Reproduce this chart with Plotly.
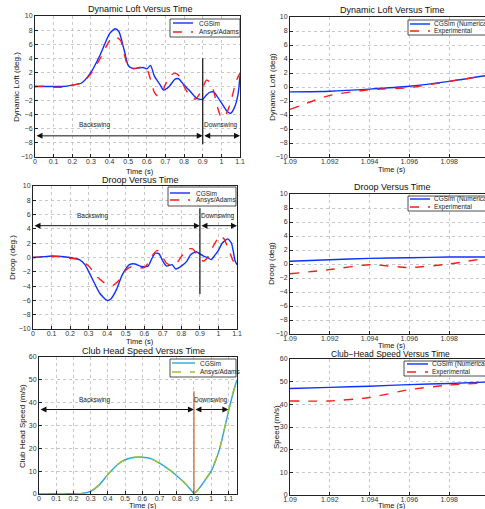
import plotly.graph_objects as go

# ---------------- data ----------------
# Dynamic loft (left, full swing)
loft_t_cg = [0, 0.05, 0.1, 0.15, 0.2, 0.25, 0.3, 0.35, 0.4, 0.43, 0.45, 0.48, 0.5, 0.52, 0.55, 0.58, 0.6, 0.62,
             0.64, 0.67, 0.69, 0.72, 0.75, 0.77, 0.8, 0.83, 0.86, 0.88, 0.9, 0.92, 0.94, 0.96, 0.98, 1.0,
             1.03, 1.05, 1.07, 1.09, 1.1]
loft_cg = [0, 0, 0, 0, 0.2, 0.5, 2.0, 4.5, 7.5, 8.2, 7.8, 5.0, 3.0, 2.6, 2.6, 2.7, 2.5, 3.0,
           1.5, 0.3, -0.5, 0.0, 1.0, 1.1, 0.2, -0.6, -1.5, -1.8, -1.8, -1.2, -0.8, -0.8, -1.5, -2.3,
           -3.5, -3.8, -3.0, -1.0, 1.5]
loft_t_an = [0, 0.05, 0.1, 0.15, 0.2, 0.25, 0.3, 0.35, 0.4, 0.43, 0.46, 0.48, 0.5, 0.53, 0.56, 0.58, 0.6, 0.62,
             0.64, 0.66, 0.68, 0.7, 0.73, 0.75, 0.77, 0.8, 0.83, 0.86, 0.88, 0.9, 0.92, 0.94, 0.96, 0.98,
             1.0, 1.02, 1.04, 1.06, 1.08, 1.1]
loft_an = [0, 0.05, -0.1, -0.1, 0.2, 0.5, 1.8, 4.0, 6.5, 7.1, 6.5, 4.5, 2.8, 2.5, 2.7, 2.8, 2.5, 1.0,
           -0.8, -1.4, -1.0, 0.3, 1.6, 1.9, 1.6, 0.0, -1.3, -1.8, -1.2, -0.2, 0.9, 0.6, -0.8, -3.0,
           -4.4, -4.2, -3.0, -1.2, 0.8, 1.9]

# Droop (left, full swing)
droop_t_cg = [0, 0.05, 0.1, 0.15, 0.2, 0.25, 0.28, 0.32, 0.36, 0.4, 0.42, 0.45, 0.48, 0.52, 0.55, 0.58, 0.62,
              0.64, 0.66, 0.68, 0.7, 0.72, 0.75, 0.77, 0.8, 0.83, 0.85, 0.88, 0.9, 0.92, 0.94, 0.96, 0.98,
              1.0, 1.02, 1.05, 1.07, 1.09, 1.1]
droop_cg = [0, 0.1, 0.2, 0.15, 0.0, -0.3, -1.0, -3.0, -5.0, -6.0, -5.8, -4.5, -2.5, -1.0, -0.9, -1.2, -1.2,
            -0.2, 0.6, 0.5, -0.5, -1.2, -1.0, -1.6, -1.2, -0.5, 0.4, 0.8, 0.5, 0.2, 0.0, -0.3, 0.3,
            1.0, 2.0, 2.6, 2.0, -0.5, -1.0]
droop_t_an = [0, 0.1, 0.15, 0.2, 0.25, 0.3, 0.35, 0.4, 0.43, 0.46, 0.5, 0.53, 0.56, 0.6, 0.62, 0.65, 0.67,
              0.69, 0.72, 0.75, 0.78, 0.81, 0.84, 0.86, 0.88, 0.9, 0.92, 0.94, 0.97, 1.0, 1.01, 1.03,
              1.06, 1.08, 1.1]
droop_an = [0, 0.1, 0.15, -0.1, -0.3, -1.2, -2.8, -3.8, -3.9, -3.3, -1.8, -1.3, -1.4, -1.4, -0.8, 0.5, 1.0,
            0.5, -0.8, -1.1, -0.6, 0.5, 1.2, 1.2, 0.6, -0.2, -0.5, 0.0, 1.5, 2.8, 3.1, 2.6,
            0.8, -0.5, -0.9]

# Club head speed (left, full swing)
speed_t = [0, 0.1, 0.2, 0.25, 0.3, 0.35, 0.4, 0.45, 0.5, 0.55, 0.6, 0.65, 0.7, 0.75, 0.8, 0.85, 0.88,
           0.9, 0.92, 0.95, 1.0, 1.05, 1.1, 1.13, 1.15]
speed_cg = [0, 0.1, 0.1, 0.3, 1.2, 4.0, 8.5, 12.5, 15.0, 16.0, 16.1, 15.5, 13.5, 11.0, 8.0, 4.5, 2.0,
            0.3, 1.5, 4.5, 10.0, 20.0, 36.0, 45.0, 50.0]
speed_an = [0, 0.1, 0.1, 0.3, 1.1, 4.1, 8.6, 12.6, 15.1, 16.1, 16.2, 15.4, 13.4, 11.0, 8.1, 4.6, 2.1,
            0.4, 1.6, 4.6, 10.2, 20.2, 36.3, 45.2, 50.0]

# Zoomed-in impact window (right column)
zoom_t = [1.09, 1.092, 1.094, 1.096, 1.098, 1.0998]
zloft_num = [-0.7, -0.6, -0.3, 0.1, 0.8, 1.6]
zloft_exp = [-3.2, -1.2, -0.4, -0.1, 0.8, 1.6]
zdroop_num = [0.4, 0.6, 0.8, 0.9, 1.0, 1.0]
zdroop_exp = [-1.4, -0.8, -0.1, -0.5, 0.0, 0.8]
zspeed_num = [47.0, 47.5, 48.0, 48.7, 49.2, 49.8]
zspeed_exp = [41.5, 41.5, 43.0, 46.5, 48.5, 49.5]

# phase markers
t_top = 0.9          # top of backswing
t_end = 1.1
phase_labels = ["Backswing", "Downswing"]
left_names = ["CGSim", "Ansys/Adams"]
right_names = ["CGSim (Numerical)", "Experimental"]

FONT = "Liberation Sans, Arial, sans-serif"
W, H = 485, 509

fig = go.Figure()

BLUE = "#1030ff"
RED = "#ff1a1a"
TEAL = "#2aa8d8"
OLIVE = "#9abf30"


def add(x, y, name, color, dash, ax, width=1.4):
    fig.add_trace(go.Scatter(x=x, y=y, name=name, mode="lines", showlegend=False,
                             line=dict(color=color, dash=dash, width=width, shape="spline", smoothing=0.6),
                             xaxis="x" + ax, yaxis="y" + ax))


add(loft_t_cg, loft_cg, left_names[0], BLUE, "solid", "")
add(loft_t_an, loft_an, left_names[1], RED, "dash", "")
add(zoom_t, zloft_num, right_names[0], BLUE, "solid", "2")
add(zoom_t, zloft_exp, right_names[1], RED, "dash", "2")
add(droop_t_cg, droop_cg, left_names[0], BLUE, "solid", "3")
add(droop_t_an, droop_an, left_names[1], RED, "dash", "3")
add(zoom_t, zdroop_num, right_names[0], BLUE, "solid", "4")
add(zoom_t, zdroop_exp, right_names[1], RED, "dash", "4")
add(speed_t, speed_cg, left_names[0], TEAL, "solid", "5")
add(speed_t, speed_an, left_names[1], OLIVE, "dash", "5")
add(zoom_t, zspeed_num, right_names[0], BLUE, "solid", "6")
add(zoom_t, zspeed_exp, right_names[1], RED, "dash", "6")

# panel boxes in pixels: (left, right, top, bottom)
panels = {
    "": (35, 240, 16, 157),
    "2": (290, 485, 17, 157),
    "3": (33, 237, 186, 329),
    "4": (290, 485, 194, 334),
    "5": (39, 237, 357, 494),
    "6": (290, 485, 359, 495),
}
xranges = {"": [0, 1.1], "2": [1.09, 1.0998], "3": [0, 1.1], "4": [1.09, 1.0998], "5": [0, 1.15], "6": [1.09, 1.0998]}
yranges = {"": [-10, 10], "2": [-10, 10], "3": [-10, 10], "4": [-10, 10], "5": [0, 60], "6": [0, 60]}
ydt = {"": 2, "2": 2, "3": 2, "4": 2, "5": 10, "6": 10}

tickfont = dict(family=FONT, size=7, color="#333")
for k, (l, r, t, b) in panels.items():
    right_col = k in ("2", "4", "6")
    xa = dict(domain=[l / W, r / W], range=xranges[k], anchor="y" + k, automargin=False,
              showline=True, linecolor="#222", linewidth=1, mirror=True,
              showgrid=True, gridcolor="#c8c8c8", griddash="dot", gridwidth=1,
              ticks="inside", ticklen=3, tickcolor="#222", tickfont=tickfont, zeroline=False,
              ticklabelstandoff=-2)
    if right_col:
        xa.update(tick0=1.09, dtick=0.002, tickformat=".3~f")
    else:
        xa.update(tick0=0, dtick=0.1)
    ya = dict(domain=[1 - b / H, 1 - t / H], range=yranges[k], anchor="x" + k, automargin=False,
              showline=True, linecolor="#222", linewidth=1, mirror=not right_col,
              showgrid=True, gridcolor="#c8c8c8", griddash="dot", gridwidth=1,
              ticks="inside", ticklen=3, tickcolor="#222", tickfont=tickfont,
              dtick=ydt[k], zeroline=False)
    fig.layout["xaxis" + k] = xa
    fig.layout["yaxis" + k] = ya

ann = []
shapes = []


def px2paper(px, py):
    return px / W, 1 - py / H


def text(px, py, s, size=8, angle=0, color="#111", xanchor="center"):
    x, y = px2paper(px, py)
    ann.append(dict(x=x, y=y, xref="paper", yref="paper", text=s, showarrow=False,
                    textangle=angle, font=dict(family=FONT, size=size, color=color),
                    xanchor=xanchor, yanchor="middle"))


# hand-drawn MATLAB-style legends: box (l, t, r, b), sample line x0..x1, text x, rows y
legends = [
    ((170, 19, 240, 37), 173, 193, 197, (23, 32), left_names, (BLUE, RED)),
    ((408, 20, 486, 35), 410, 430, 432, (24, 31), right_names, (BLUE, RED)),
    ((168, 187, 236, 206), 170, 190, 194, (193, 200), left_names, (BLUE, RED)),
    ((408, 196, 486, 211), 410, 430, 432, (199, 207), right_names, (BLUE, RED)),
    ((170, 359, 236, 377), 172, 195, 198, (363, 372), left_names, (TEAL, OLIVE)),
    ((404, 361, 486, 376), 407, 428, 430, (364, 372), right_names, (BLUE, RED)),
]
for (bl, bt, br, bb), lx0, lx1, tx, rows, names, cols in legends:
    x0, y0 = px2paper(bl, bb)
    x1, y1 = px2paper(br, bt)
    shapes.append(dict(type="rect", xref="paper", yref="paper", x0=x0, y0=y0, x1=x1, y1=y1,
                       line=dict(color="#222", width=0.8), fillcolor="white", layer="above"))
    for ry, nm, c, dash in zip(rows, names, cols, ("solid", "dash")):
        a0, yy = px2paper(lx0, ry)
        a1, _ = px2paper(lx1, ry)
        shapes.append(dict(type="line", xref="paper", yref="paper", x0=a0, x1=a1, y0=yy, y1=yy,
                           line=dict(color=c, width=1.4, dash=dash), layer="above"))
        text(tx, ry, nm, 6.5, color="#222", xanchor="left")

# titles
text(140, 9, "Dynamic Loft Versus Time", 9)
text(392, 10, "Dynamic Loft Versus Time", 9)
text(140, 180, "Droop Versus Time", 9)
text(392, 187, "Droop Versus Time", 9)
text(143, 351, "Club Head Speed Versus Time", 9)
text(390, 354, "Club\u2212Head Speed Versus Time", 8.5)
# x titles
for px, py in [(140, 171.5), (392, 170), (140, 341), (392, 345.5), (143, 505), (392, 505)]:
    text(px, py, "Time (s)", 7.5)
# y titles
text(16, 87, "Dynamic Loft (deg.)", 8, -90)
text(12, 258, "Droop (deg.)", 8, -90)
text(22, 426, "Club Head Speed (m/s)", 8, -90)
text(272, 87, "Dynamic Loft (deg)", 8, -90)
text(271, 264, "Droop (deg)", 8, -90)
text(276, 427, "Speed (m/s)", 8, -90)

# phase arrows and labels in data coords
phase_cfg = [("", -7.0, -5.5, -8.2, 4.0, "#111"),
             ("3", 4.45, 5.8, -5.1, 6.9, "#111"),
             ("5", 37.0, 41.0, 0.0, 45.0, "#b5652a")]
for k, ya_, yl, v0, v1, vcol in phase_cfg:
    xr, yr = "x" + k, "y" + k
    for (a, b_) in [(0.0, t_top), (t_top, t_end)]:
        ann.append(dict(x=b_, y=ya_, ax=a, ay=ya_, xref=xr, yref=yr, axref=xr, ayref=yr,
                        showarrow=True, arrowhead=2, arrowside="end+start", arrowsize=1.2,
                        arrowwidth=1, arrowcolor="#111", text=""))
    ann.append(dict(x=0.32, y=yl, xref=xr, yref=yr, text=phase_labels[0], showarrow=False,
                    font=dict(family=FONT, size=6.5, color="#222")))
    ann.append(dict(x=1.0, y=yl, xref=xr, yref=yr, text=phase_labels[1], showarrow=False,
                    font=dict(family=FONT, size=6.5, color="#222")))
    shapes.append(dict(type="line", x0=t_top, x1=t_top, y0=v0, y1=v1, xref=xr, yref=yr,
                       line=dict(color=vcol, width=1.2)))

fig.update_layout(width=W, height=H, margin=dict(l=0, r=0, t=0, b=0), showlegend=False,
                  paper_bgcolor="white", plot_bgcolor="white", annotations=ann, shapes=shapes,
                  font=dict(family=FONT))
fig.write_html("out.html", config={"displayModeBar": False},
               post_script="document.body.style.margin='0';document.body.style.overflow='hidden';")
